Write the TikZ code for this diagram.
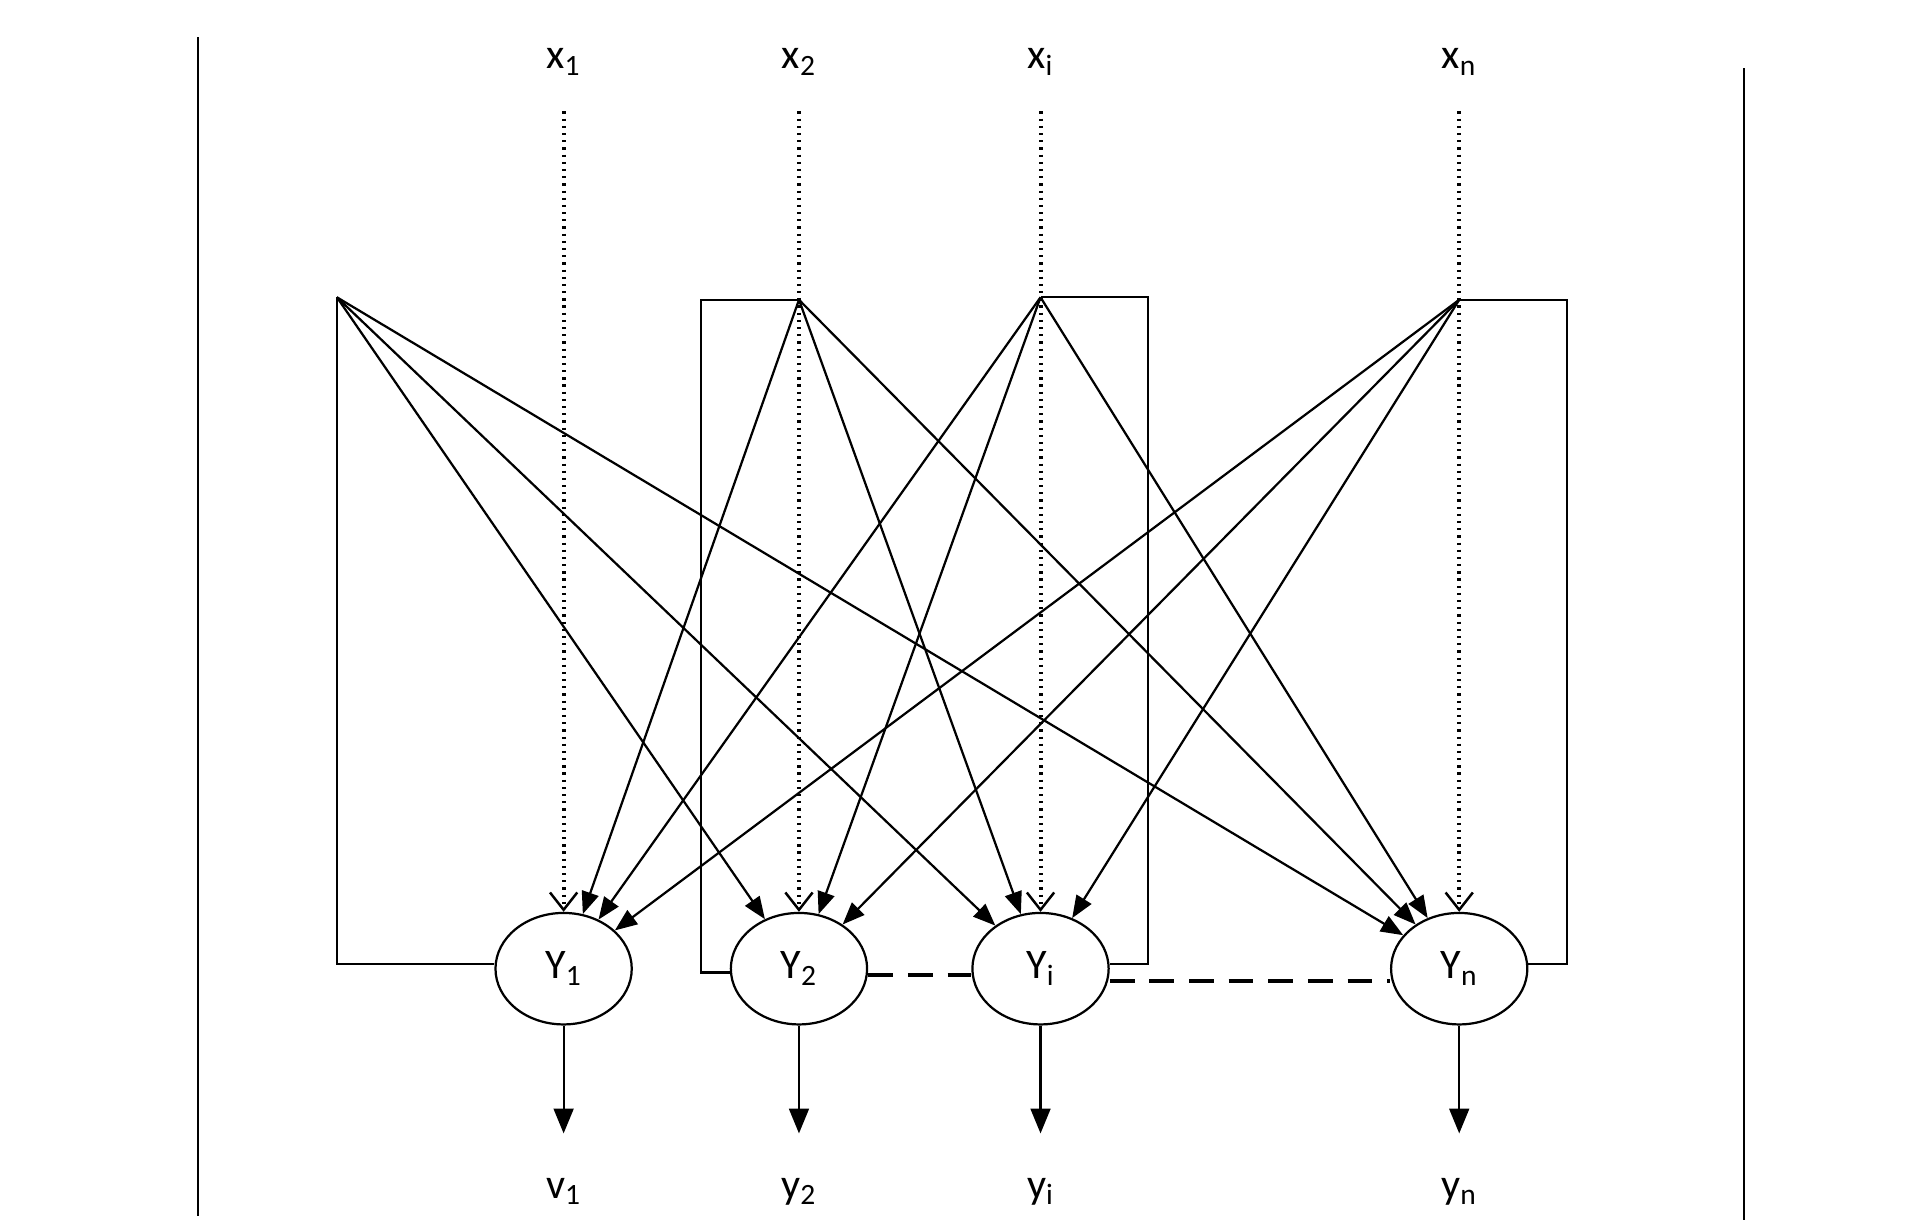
\documentclass[tikz,border=0pt]{standalone}
\usepackage{fontspec}
\setmainfont{Carlito}
\usetikzlibrary{arrows.meta,shapes.geometric}
\begin{document}
\begin{tikzpicture}[x=0.5pt,y=-0.5pt,
  every path/.style={line width=0.9pt},
  yn/.style={ellipse,draw,line width=0.9pt,minimum width=55pt,minimum height=45pt,inner sep=0pt,font=\fontsize{17}{20}\selectfont},
  lab/.style={font=\fontsize{17}{20}\selectfont},
  fan/.style={line width=0.9pt,-{Triangle[length=9pt,width=7pt]}},
  dot/.style={dotted,line width=1.6pt,-{Straight Barb[length=7pt,width=11pt,line width=1pt]}},
  fb/.style={line width=0.9pt},
  link/.style={line width=1.8pt,dash pattern=on 10pt off 6pt},
  outarrow/.style={line width=0.9pt,-{Triangle[length=10pt,width=8pt]}}]
\useasboundingbox (0,0) rectangle (1550,990);
\draw (160,30) -- (160,982);
\draw (1408,55) -- (1408,985);
% inputs
\node[lab] (x1) at (455,50) {x\textsubscript{1}};
\node[lab] (x2) at (645,50) {x\textsubscript{2}};
\node[lab] (xi) at (840,50) {x\textsubscript{i}};
\node[lab] (xn) at (1178,50) {x\textsubscript{n}};
\foreach \n/\x in {1/455,2/645,i/840,n/1178}{ \coordinate (s\n) at (\x,90); }
% nodes
\node[yn] (Y1) at (455,782) {Y\textsubscript{1}};
\node[yn] (Y2) at (645,782) {Y\textsubscript{2}};
\node[yn] (Yi) at (840,782) {Y\textsubscript{i}};
\node[yn] (Yn) at (1178,782) {Y\textsubscript{n}};
% apexes
\coordinate (a1) at (272,240);
\coordinate (a2) at (645,242);
\coordinate (ai) at (840,240);
\coordinate (an) at (1178,242);
% dotted inputs
\foreach \n in {1,2,i,n}{ \draw[dot] (s\n) -- (Y\n); }
% fans
\foreach \t in {2,i,n}{ \draw[fan] (a1) -- (Y\t); }
\foreach \t in {1,i,n}{ \draw[fan] (a2) -- (Y\t); }
\foreach \t in {1,2,n}{ \draw[fan] (ai) -- (Y\t); }
\foreach \t in {1,2,i}{ \draw[fan] (an) -- (Y\t); }
% feedback
\draw[fb] (a1) -- (272,778) -- (Y1.west |- 0,778);
\draw[fb] (a2) -- (566,242) -- (566,785) -- (Y2.west |- 0,785);
\draw[fb] (ai) -- (927,240) -- (927,778) -- (Yi.east |- 0,778);
\draw[fb] (an) -- (1265,242) -- (1265,778) -- (Yn.east |- 0,778);
% links
\draw[link] (Y2.east |- 0,787) -- (Yi.west |- 0,787);
\draw[link] (Yi.east |- 0,792) -- (Yn.west |- 0,792);
% outputs
\foreach \n/\x in {1/455,2/645,i/840,n/1178}{
  \coordinate (o\n) at (\x,915);
  \draw[outarrow] (Y\n) -- (o\n);
}
\node[lab] (y1) at (455,962) {v\textsubscript{1}};
\node[lab] (y2) at (645,962) {y\textsubscript{2}};
\node[lab] (yi) at (840,962) {y\textsubscript{i}};
\node[lab] (yn) at (1178,962) {y\textsubscript{n}};
\end{tikzpicture}
\end{document}
